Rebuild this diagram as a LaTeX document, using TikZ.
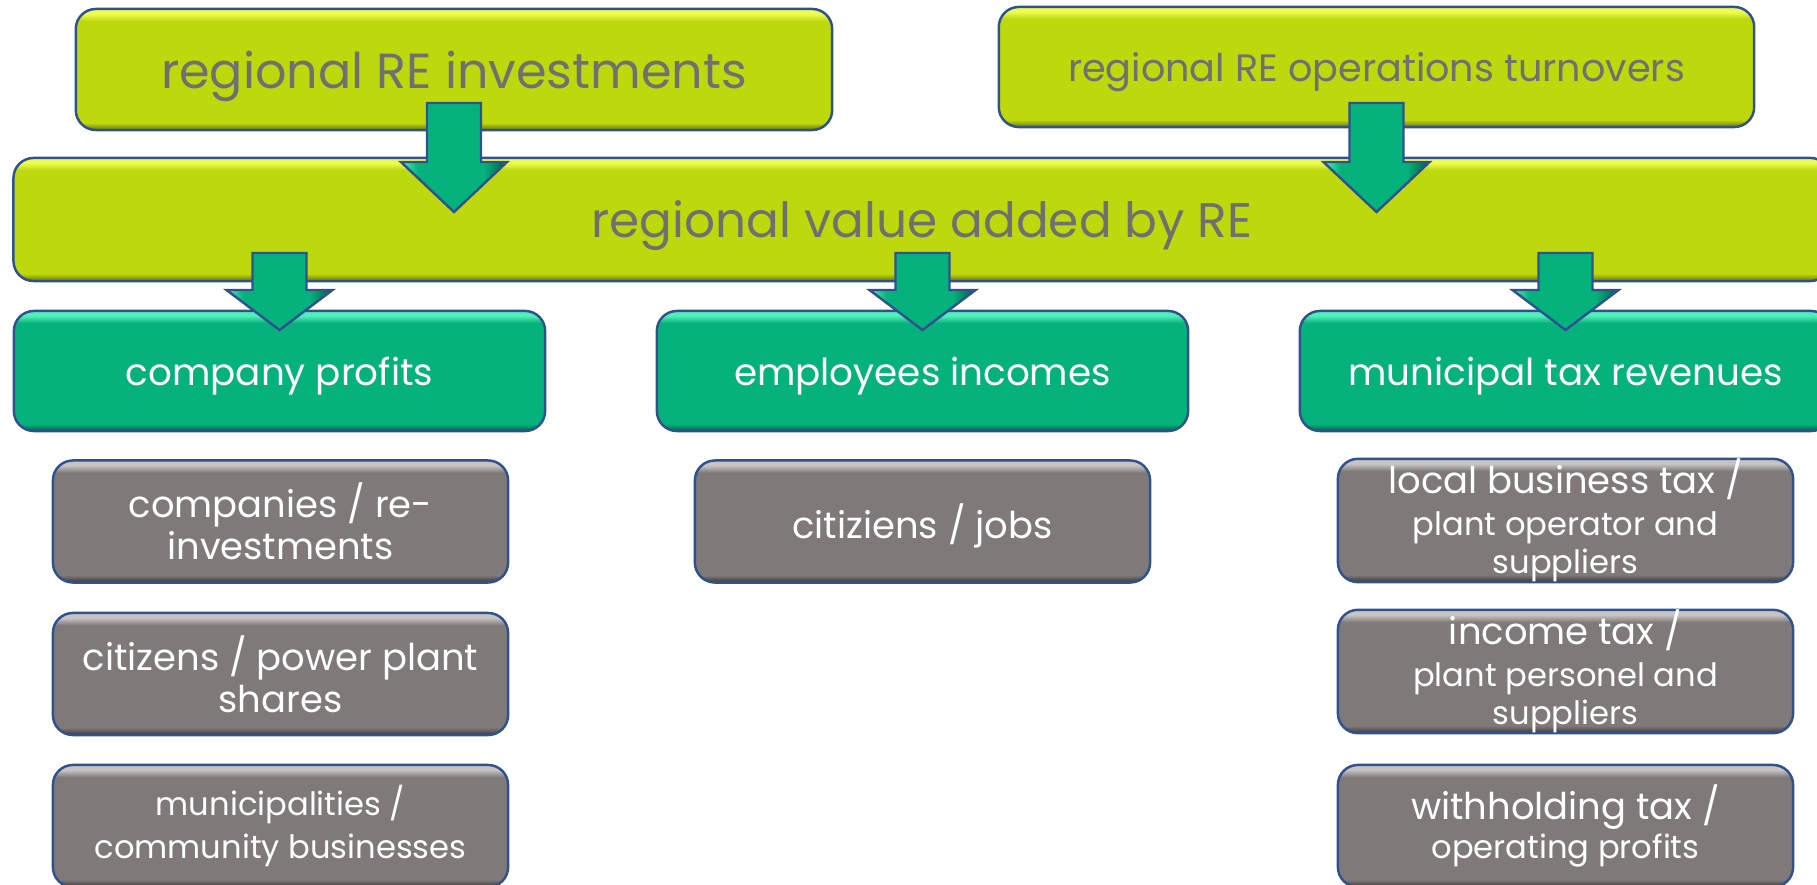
\documentclass[tikz,border=0pt]{standalone}
\usepackage{fontspec}
\setmainfont{Poppins}
\usetikzlibrary{calc}

% Farben
\definecolor{gelb}{RGB}{189,216,13}
\definecolor{gelbhell}{RGB}{238,252,80}
\definecolor{gelbdunkel}{RGB}{105,115,10}
\definecolor{gruen}{RGB}{6,178,124}
\definecolor{gruenhell}{RGB}{80,238,185}
\definecolor{gruendunkel}{RGB}{0,95,68}
\definecolor{grau}{RGB}{127,122,121}
\definecolor{grauhell}{RGB}{200,196,195}
\definecolor{graudunkel}{RGB}{55,53,53}
\definecolor{rand}{RGB}{47,82,143}
\definecolor{schrift}{RGB}{112,112,112}

% Relief-Schattierungen (Mitte 25bp..75bp = Kasten)
\pgfdeclareverticalshading{gelbrelief}{100bp}{color(0bp)=(gelbdunkel); color(25bp)=(gelbdunkel); color(28bp)=(gelb); color(70bp)=(gelb); color(73bp)=(gelbhell); color(75bp)=(gelbhell); color(100bp)=(gelbhell)}
\pgfdeclareverticalshading{gruenrelief}{100bp}{color(0bp)=(gruendunkel); color(25bp)=(gruendunkel); color(28bp)=(gruen); color(70bp)=(gruen); color(73bp)=(gruenhell); color(75bp)=(gruenhell); color(100bp)=(gruenhell)}
\pgfdeclareverticalshading{graurelief}{100bp}{color(0bp)=(graudunkel); color(25bp)=(graudunkel); color(28bp)=(grau); color(70bp)=(grau); color(73bp)=(grauhell); color(75bp)=(grauhell); color(100bp)=(grauhell)}
\pgfdeclarehorizontalshading{pfeilrelief}{100bp}{color(0bp)=(gruenhell); color(25bp)=(gruenhell); color(33bp)=(gruen); color(64bp)=(gruen); color(75bp)=(gruendunkel); color(100bp)=(gruendunkel)}

\newcommand{\gross}{\fontsize{10.5}{12}\selectfont}
\newcommand{\klein}{\fontsize{9.15}{11}\selectfont}

% Blockpfeil unter einem Kasten: Knoten, Schaft oben, Kopfansatz, Spitze
\newcommand{\blockpfeil}[4]{%
  \draw[pfeilstil] ($(#1.center |- 0,#2)+(-27,0)$) -- ($(#1.center |- 0,#2)+(27,0)$)
    -- ($(#1.center |- 0,#3)+(27,0)$) -- ($(#1.center |- 0,#3)+(53,0)$)
    -- (#1.center |- 0,#4) -- ($(#1.center |- 0,#3)+(-53,0)$)
    -- ($(#1.center |- 0,#3)+(-27,0)$) -- cycle;}

\tikzset{
  kasten/.style={draw=rand, line width=0.7pt, rounded corners=0.2cm, align=center, inner sep=0pt},
  gelbkasten/.style={kasten, shading=gelbrelief, text=schrift, text depth=0pt},
  gruenkasten/.style={kasten, shading=gruenrelief, text=white, minimum width=5.31cm, minimum height=1.2cm, font=\fontsize{10.6}{12}\selectfont, text depth=0pt},
  graukasten/.style={kasten, shading=graurelief, text=white, minimum width=4.55cm, minimum height=1.22cm, font=\gross},
  pfeilstil/.style={draw=rand, line width=0.7pt, shading=pfeilrelief}
}

\begin{document}
\begin{tikzpicture}[x=0.01cm, y=-0.01cm]
	\useasboundingbox (0,0) rectangle (1817,885);
	
	% obere Zeile
	\node[gelbkasten, minimum width=7.56cm, minimum height=1.21cm, font=\fontsize{14}{16}\selectfont] (inv) at (454,69.5) {regional RE investments};
	\node[gelbkasten, minimum width=7.55cm, minimum height=1.2cm, font=\fontsize{10.85}{12}\selectfont] (betrieb) at (1376.5,67) {regional RE operations turnovers};
	
	% Wertschoepfung
	\node[gelbkasten, minimum width=18.16cm, minimum height=1.23cm, font=\fontsize{13.8}{16}\selectfont] (wert) at (922,219.5) {regional value added by RE};
	\blockpfeil{inv}{103}{162}{212}
	\blockpfeil{betrieb}{103}{162}{212}
	
	% Anteile
	\node[gruenkasten] (gewinn) at (279.5,371) {company profits};
	\node[gruenkasten] (einkommen) at (922.5,371) {employees incomes};
	\node[gruenkasten] (steuer) at (1565.5,371) {municipal tax revenues};
	\blockpfeil{gewinn}{253}{290}{330}
	\blockpfeil{einkommen}{253}{290}{330}
	\blockpfeil{steuer}{253}{290}{330}
	
	% Empfaenger
	\node[graukasten] (firmen) at (280.5,521.5) {companies / re-\\investments};
	\node[graukasten] (buerger) at (280.5,674) {citizens / power plant\\shares};
	\node[graukasten] (kommunen) at (280.5,826) {\klein municipalities /\\\klein community businesses};
	\node[graukasten, text depth=0pt] (jobs) at (922.5,521.5) {citiziens / jobs};
	\node[graukasten] (gewerbe) at (1565.5,520.5) {local business tax /\\{\klein plant operator and}\\[-1.2pt]{\klein suppliers}};
	\node[graukasten] (einkst) at (1565.5,671.5) {income tax /\\{\klein plant personel and}\\[-1.2pt]{\klein suppliers}};
	\node[graukasten] (quelle) at (1565.5,826) {withholding tax /\\[-0.8pt]{\klein operating profits}};
\end{tikzpicture}
\end{document}
